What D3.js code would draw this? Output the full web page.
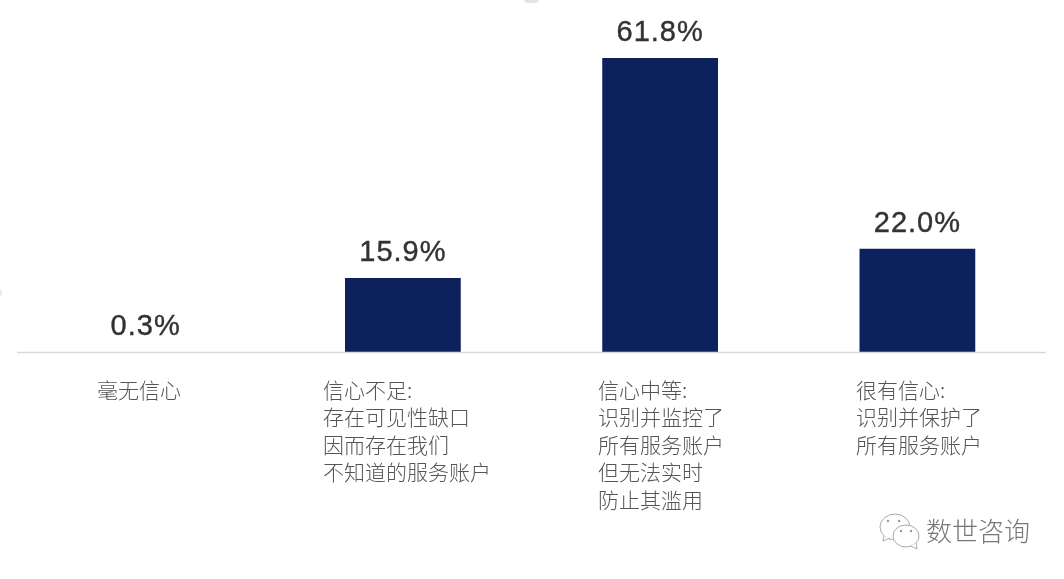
<!DOCTYPE html>
<html><head><meta charset="utf-8">
<script src="https://cdnjs.cloudflare.com/ajax/libs/d3/7.8.5/d3.min.js"></script>
<style>html,body{margin:0;padding:0;background:#fff}svg{display:block}</style>
</head><body><svg id="c" width="1064" height="579"></svg>
<script>
const categories=["毫无信心","信心不足","信心中等","很有信心"];
const values=[0.3,15.9,61.8,22.0];
const valueLabels=["0.3%","15.9%","61.8%","22.0%"];
const labelLines=[["毫无信心"],["信心不足:","存在可见性缺口","因而存在我们","不知道的服务账户"],["信心中等:","识别并监控了","所有服务账户","但无法实时","防止其滥用"],["很有信心:","识别并保护了","所有服务账户"]];
const labelX=[97,323,598,856];
const watermark="数世咨询";

const svg=d3.select("#c");
const defs=svg.append("defs");
defs.append("filter").attr("id","soft").append("feGaussianBlur").attr("stdDeviation",0.5);
const x=d3.scaleBand().domain(categories).range([17,1046]).paddingInner(0.55).paddingOuter(0.275);
const y=d3.scaleLinear().domain([0.46,61.8]).range([352,58]).clamp(true);
const cjk="'Noto Sans CJK SC','Noto Sans',sans-serif";

const g=svg.append("g").attr("filter","url(#soft)");
g.append("g").selectAll("rect").data(values).join("rect")
 .attr("x",(d,i)=>x(categories[i])).attr("width",x.bandwidth())
 .attr("y",d=>y(d)).attr("height",d=>y(0)-y(d)).attr("fill","#10245c");
g.append("line").attr("x1",17).attr("x2",1046).attr("y1",352.5).attr("y2",352.5).attr("stroke","#d9d9d9").attr("stroke-width",1.5);
g.append("g").selectAll("text").data(values).join("text")
 .attr("x",(d,i)=>x(categories[i])+x.bandwidth()/2)
 .attr("y",d=>y(d)-17)
 .attr("text-anchor","middle")
 .attr("font-family","'Liberation Sans',Arial,sans-serif").attr("font-size",29).attr("letter-spacing",1)
 .attr("fill","#333").attr("stroke","#333").attr("stroke-width",0.4).text((d,i)=>valueLabels[i]);
const lab=g.append("g").selectAll("g").data(labelLines).join("g");
lab.each(function(lines,i){
  d3.select(this).selectAll("text").data(lines).join("text")
   .attr("x",labelX[i]).attr("y",(l,j)=>397.5+j*27.6)
   .attr("font-family",cjk).attr("font-size",21).attr("font-weight",300)
   .attr("fill","#555").text(l=>l);
});
// watermark
const wm=svg.append("g").attr("filter","url(#soft)");
wm.append("text").attr("x",926).attr("y",541).attr("font-family",cjk).attr("font-size",26).attr("font-weight",300)
 .attr("fill","#777").text(watermark);
const bub=wm.append("g").attr("fill","#fff").attr("stroke","#aaa").attr("stroke-width",1);
bub.append("ellipse").attr("cx",895).attr("cy",527).attr("rx",15).attr("ry",13);
bub.append("path").attr("d","M884 536l-1 5 7-3");
bub.append("ellipse").attr("cx",906).attr("cy",536).attr("rx",13).attr("ry",11);
bub.append("path").attr("d","M911 546l6 3-1-6");
wm.selectAll("circle").data([[888,521],[899,521],[901,531],[911,531]]).join("circle")
 .attr("cx",d=>d[0]).attr("cy",d=>d[1]).attr("r",1.2).attr("fill","#999");
// scan artefacts at the picture edge
svg.append("rect").attr("x",524).attr("y",-6).attr("width",15).attr("height",9).attr("rx",4).attr("fill","#e4e4e4");
svg.append("circle").attr("cx",-3).attr("cy",293).attr("r",5).attr("fill","#e8e8e8");
</script></body></html>
